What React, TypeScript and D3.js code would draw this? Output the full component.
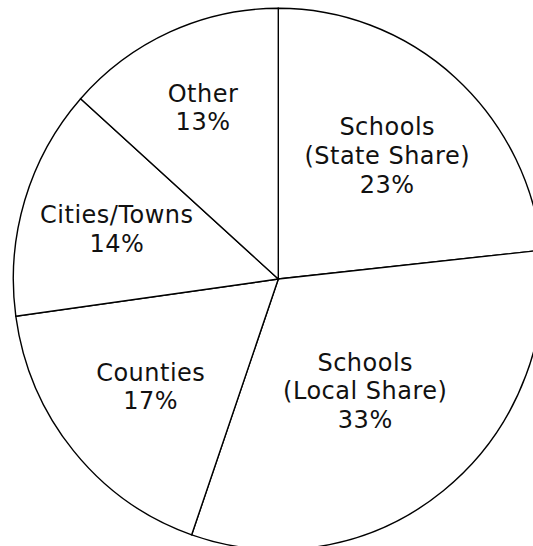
import React from "react";
import * as d3 from "d3";

const categories = [
  "Schools (State Share)",
  "Schools (Local Share)",
  "Counties",
  "Cities/Towns",
  "Other",
];
// slice shares (angles of the dividing lines)
const sliceShares = [23.3, 32.0, 17.5, 13.8, 13.4];
const percentLabels = ["23%", "33%", "17%", "14%", "13%"];
const labelLines = [
  ["Schools", "(State Share)"],
  ["Schools", "(Local Share)"],
  ["Counties"],
  ["Cities/Towns"],
  ["Other"],
];

// layout config
const W = 533;
const H = 546;
const CX = 278.3;
const CY = 279;
const RX = 265;
const RY = 270.7;
const LABEL_RADIUS = [0.615, 0.527, 0.623, 0.637, 0.695];
const FONT_SIZE = 24;
const LINE_H = 28.6;
const CAP_H = 17.5;

export default function App() {
  const ratio = RY / RX;
  const pie = d3
    .pie<number>()
    .sort(null)
    .value((d) => d)
    .startAngle(0)
    .endAngle(2 * Math.PI);
  const arcs = pie(sliceShares);
  const arc = d3.arc<d3.PieArcDatum<number>>().innerRadius(0).outerRadius(RX);

  return (
    <svg
      width={W}
      height={H}
      style={{ position: "absolute", left: 0, top: 0, background: "#fff" }}
    >
      <g transform={`translate(${CX},${CY}) scale(1,${ratio})`}>
        {arcs.map((a, i) => (
          <path
            key={categories[i]}
            d={arc(a) || ""}
            fill="#fff"
            stroke="#000"
            strokeWidth={1.4}
            vectorEffect="non-scaling-stroke"
          />
        ))}
      </g>
      {arcs.map((a, i) => {
        const mid = (a.startAngle + a.endAngle) / 2;
        const d = LABEL_RADIUS[i] * RX;
        const x = CX + d * Math.sin(mid);
        const y = CY - d * Math.cos(mid) * ratio;
        const lines = [...labelLines[i], percentLabels[i]];
        const first = y - ((lines.length - 1) * LINE_H) / 2 + CAP_H / 2;
        return (
          <text
            key={categories[i]}
            x={x}
            y={first}
            textAnchor="middle"
            fontFamily="Verdana, 'DejaVu Sans', sans-serif"
            fontSize={FONT_SIZE}
            letterSpacing={0.5}
            fill="#111"
          >
            {lines.map((l, j) => (
              <tspan key={j} x={x} y={first + j * LINE_H}>
                {l}
              </tspan>
            ))}
          </text>
        );
      })}
    </svg>
  );
}
